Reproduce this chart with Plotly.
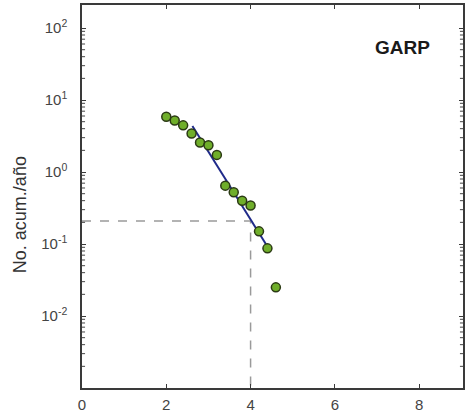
import plotly.graph_objects as go

# Observed cumulative rates per year vs magnitude
magnitude = [2.0, 2.2, 2.4, 2.6, 2.8, 3.0, 3.2, 3.4, 3.6, 3.8, 4.0, 4.2, 4.4, 4.6]
cum_rate = [5.87, 5.2, 4.45, 3.42, 2.57, 2.36, 1.73, 0.647, 0.525, 0.40, 0.343, 0.150, 0.087, 0.025]

# Fitted Gutenberg-Richter line endpoints
fit_x = [2.62, 4.38]
fit_y = [4.35, 0.096]

# Reference guide (dashed)
ref_x = [0, 4.0, 4.0]
ref_y = [0.209, 0.209, 0.001]

x_ticks = [0, 2, 4, 6, 8]
y_ticks = [0.01, 0.1, 1, 10, 100]
y_ticktext = ["10<sup>-2</sup>", "10<sup>-1</sup>", "10<sup>0</sup>", "10<sup>1</sup>", "10<sup>2</sup>"]
decades = [0.001, 0.01, 0.1, 1, 10, 100]
minor_y = [m * d for d in decades for m in range(2, 10) if m * d < 200]

fig = go.Figure()
fig.add_trace(go.Scatter(x=ref_x, y=ref_y, mode="lines",
                         line=dict(color="#9a9a9a", width=1.5, dash="dash"),
                         showlegend=False, hoverinfo="skip"))
fig.add_trace(go.Scatter(x=fit_x, y=fit_y, mode="lines",
                         line=dict(color="#1f2a8a", width=2), showlegend=False))
fig.add_trace(go.Scatter(x=magnitude, y=cum_rate, mode="markers",
                         marker=dict(size=9, color="#6fae2a",
                                     line=dict(color="#2b3a14", width=1.5)),
                         showlegend=False))

# minor log ticks on the left and right frame edges
for v in minor_y:
    fig.add_shape(type="line", xref="paper", yref="y", x0=0, x1=0.008, y0=v, y1=v,
                  line=dict(color="#444444", width=1))
    fig.add_shape(type="line", xref="paper", yref="y", x0=0.992, x1=1, y0=v, y1=v,
                  line=dict(color="#444444", width=1))

font_family = "Liberation Sans, Arial"
axis_common = dict(showgrid=False, zeroline=False, showline=True, mirror="allticks",
                   linecolor="#3a3a3a", linewidth=1.5, ticks="inside",
                   tickcolor="#3a3a3a", ticklen=4,
                   tickfont=dict(family=font_family, size=15, color="#444444"))

fig.update_xaxes(range=[0, 9.04], tickvals=x_ticks, ticklabelstandoff=2, **axis_common)
fig.update_yaxes(type="log", range=[-3.0, 2.32], tickvals=y_ticks, ticktext=y_ticktext,
                 ticklabelstandoff=10, **axis_common)

# y-axis title, placed as a rotated annotation
fig.add_annotation(x=-0.162, y=0.452, xref="paper", yref="paper",
                   xanchor="center", yanchor="middle", textangle=-90,
                   text="No. acum./año", showarrow=False,
                   font=dict(family=font_family, size=18, color="#333333"))

fig.add_annotation(x=0.842, y=0.888, xref="paper", yref="paper",
                   xanchor="center", yanchor="middle",
                   text="<b>GARP</b>", showarrow=False,
                   font=dict(family=font_family, size=19, color="#1a1a1a"))

fig.update_layout(width=466, height=414, margin=dict(l=82, r=1, t=5, b=24),
                  plot_bgcolor="white", paper_bgcolor="white")

fig.write_html("out.html")
